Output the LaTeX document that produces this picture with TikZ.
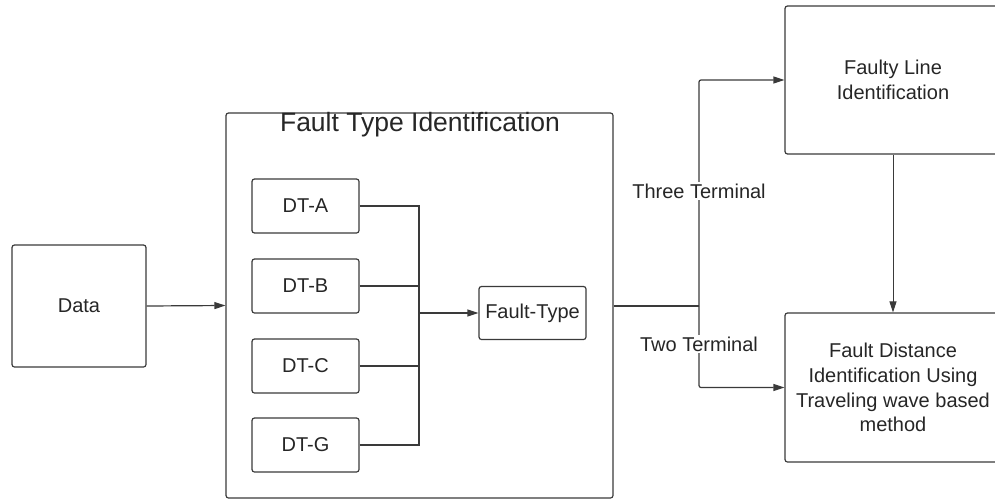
\documentclass[tikz,border=0pt]{standalone}
\usepackage{fontspec}
\setmainfont{Liberation Sans}
\usetikzlibrary{arrows.meta}
\definecolor{edge}{HTML}{3A3A3A}
\definecolor{ink}{HTML}{262626}
\begin{document}
\begin{tikzpicture}[x=1pt,y=-1pt,
  every node/.style={text=ink},
  block/.style={draw=edge, line width=1.2pt, rounded corners=2.5pt, inner sep=0pt,
                font=\fontsize{20}{24.7}\selectfont, align=center},
  wire/.style={draw=edge, line width=1.2pt},
  arr/.style={wire, -{Triangle[length=11pt,width=7pt]}},
  tag/.style={fill=white, inner sep=2pt, font=\fontsize{20}{23}\selectfont}
]
\clip (0,0) rectangle (995,498);

% input block
\node[block, minimum width=134pt, minimum height=122pt] (data) at (79,306) {Data};

% fault type identification frame
\node[block, minimum width=387pt, minimum height=385pt] (fti) at (419.5,305.5) {};
\node[font=\fontsize{26.5}{30}\selectfont, anchor=north, inner sep=0pt] (ftitle) at (420,112) {Fault Type Identification};

% decision trees
\node[block, minimum width=107pt, minimum height=54pt] (dta) at (305.5,206) {DT-A};
\node[block, minimum width=107pt, minimum height=54pt] (dtb) at (305.5,286) {DT-B};
\node[block, minimum width=107pt, minimum height=54pt] (dtc) at (305.5,366) {DT-C};
\node[block, minimum width=107pt, minimum height=54pt] (dtg) at (305.5,445) {DT-G};

\node[block, minimum width=107pt, minimum height=53pt] (ftype) at (532.5,313) {Fault-Type};

% right-hand stages
\node[block, minimum width=216pt, minimum height=148pt] (fli) at (893,80)
  {Faulty Line\\Identification};
\node[block, minimum width=216pt, minimum height=149pt] (fdi) at (893,387.5)
  {Fault Distance\\Identification Using\\Traveling wave based\\method};

% junction points
\coordinate (bus) at (419,313);
\coordinate (split) at (699,306);

% connectors
\draw[arr] (data.east) -- (fti.west);

\draw[wire] (dta.east) -| (bus);
\draw[wire] (dtb.east) -| (bus);
\draw[wire] (dtc.east) -| (bus);
\draw[wire] (dtg.east) -| (bus);
\draw[arr] (bus) -- (ftype.west);

\draw[wire] (fti.east |- split) -- (split);
\draw[arr, rounded corners=2pt] (split) |- (fli.west);
\draw[arr, rounded corners=2pt] (split) |- (fdi.west);
\draw[arr, line width=1pt] (fli.south) -- (fdi.north);

% branch labels
\node[tag] (three) at (699,191) {Three Terminal};
\node[tag] (two) at (699,344) {Two Terminal};
\end{tikzpicture}
\end{document}
